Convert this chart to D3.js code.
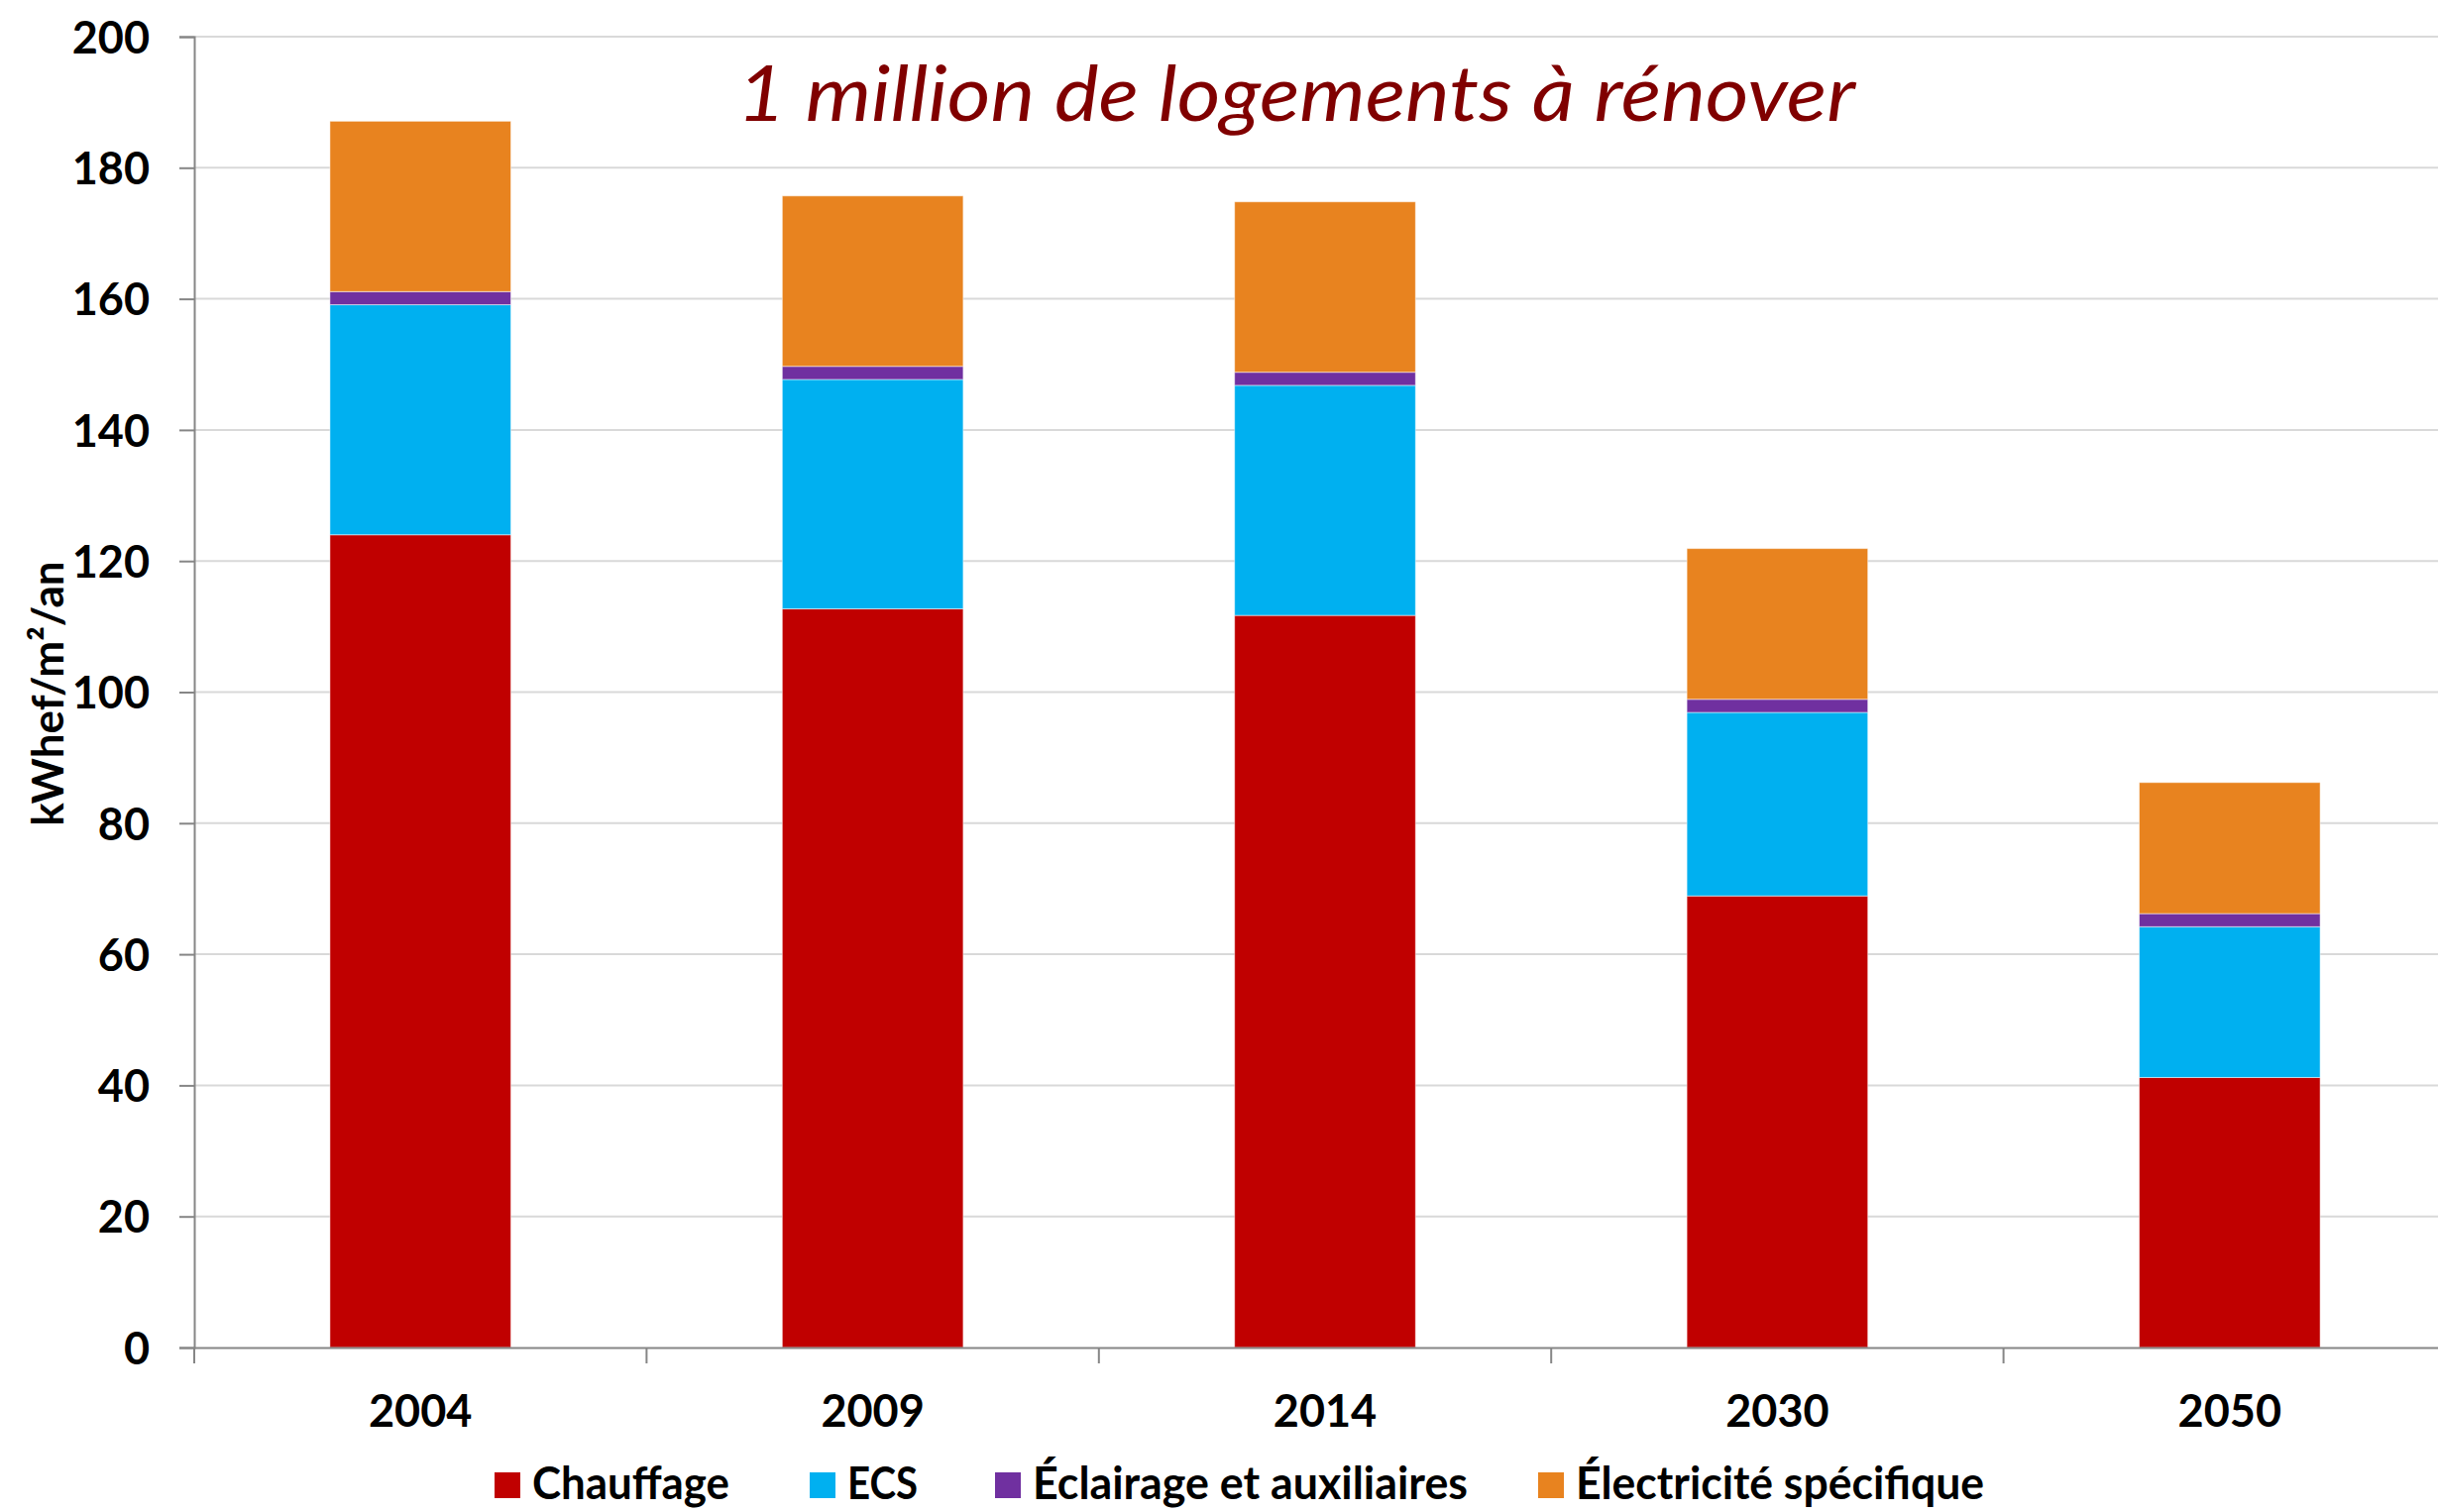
<!DOCTYPE html>
<html>
<head>
<meta charset="utf-8">
<script src="https://cdn.jsdelivr.net/npm/d3@7"></script>
<style>
  body { margin: 0; background: #fff; }
  svg { display: block; }
</style>
</head>
<body>
<div id="chart"></div>
<script>
// data
const categories = ["2004", "2009", "2014", "2030", "2050"];
const seriesNames = ["Chauffage", "ECS", "Éclairage et auxiliaires", "Électricité spécifique"];
const chauffage = [124.0, 112.7, 111.7, 68.9, 41.2];
const ecs = [35.1, 35.0, 35.1, 28.0, 23.0];
const eclairage = [2.0, 2.0, 2.0, 2.0, 2.0];
const electricite = [26.0, 26.0, 26.0, 23.0, 20.0];
const yTicks = [0, 20, 40, 60, 80, 100, 120, 140, 160, 180, 200];
const title = "1 million de logements à rénover";
const yLabel = "kWhef/m²/an";

const colors = ["#C00000", "#00B0F0", "#7030A0", "#E8831F"];

const width = 2460;
const height = 1526;
const plot = {left: 196, right: 2478, top: 37, bottom: 1360};

const rows = categories.map((c, i) => ({
  cat: c,
  [seriesNames[0]]: chauffage[i],
  [seriesNames[1]]: ecs[i],
  [seriesNames[2]]: eclairage[i],
  [seriesNames[3]]: electricite[i]
}));

const svg = d3.select("#chart")
              .append("svg")
              .attr("width", width)
              .attr("height", height);

const x = d3.scaleBand()
            .domain(categories)
            .range([plot.left, plot.right])
            .paddingInner(0.6)
            .paddingOuter(0.3);

const y = d3.scaleLinear()
            .domain([0, 200])
            .range([plot.bottom, plot.top]);

const color = d3.scaleOrdinal().domain(seriesNames).range(colors);

// gridlines
svg.append("g").selectAll("line").data(yTicks.filter(t => t > 0)).enter()
   .append("line")
   .attr("x1", plot.left).attr("x2", plot.right)
   .attr("y1", d => y(d)).attr("y2", d => y(d))
   .attr("stroke", "#d9d9d9")
   .attr("stroke-width", 2);

// stacked bars
const stacked = d3.stack().keys(seriesNames)(rows);
svg.append("g").selectAll("g").data(stacked).enter()
   .append("g")
   .attr("fill", d => color(d.key))
   .selectAll("rect").data(d => d).enter()
   .append("rect")
   .attr("x", d => x(d.data.cat))
   .attr("width", x.bandwidth())
   .attr("y", d => y(d[1]))
   .attr("height", d => y(d[0]) - y(d[1]))
   .attr("stroke", "#fff")
   .attr("stroke-width", 1)
   .attr("stroke-opacity", 0.5);

// y axis
const yAxis = svg.append("g")
   .attr("transform", `translate(${plot.left},0)`)
   .call(d3.axisLeft(y).tickValues(yTicks).tickSize(15).tickPadding(30));
yAxis.select(".domain").attr("stroke", "#868686").attr("stroke-width", 2);
yAxis.selectAll(".tick line").attr("stroke", "#868686").attr("stroke-width", 2);
yAxis.selectAll(".tick text")
     .attr("font-family", "Lato, sans-serif")
     .attr("font-weight", "bold")
     .attr("font-size", 45)
     .attr("fill", "#000")
     .attr("dy", "0.36em");

// x axis with ticks between categories
const xAxis = svg.append("g")
   .attr("transform", `translate(0,${plot.bottom})`)
   .call(d3.axisBottom(x).tickSize(0).tickPadding(48));
xAxis.select(".domain").attr("stroke", "#868686").attr("stroke-width", 2);
xAxis.selectAll(".tick text")
     .attr("font-family", "Lato, sans-serif")
     .attr("font-weight", "bold")
     .attr("font-size", 45)
     .attr("fill", "#000");
const bounds = categories.map(c => x(c) - x.step() * x.paddingInner() / 2).concat([plot.right]);
xAxis.append("g").selectAll("line").data(bounds).enter()
     .append("line")
     .attr("x1", d => d).attr("x2", d => d)
     .attr("y1", 0).attr("y2", 16)
     .attr("stroke", "#868686")
     .attr("stroke-width", 2);

// y label
svg.append("text")
   .attr("transform", "translate(64,700) rotate(-90)")
   .attr("text-anchor", "middle")
   .attr("font-family", "Lato, sans-serif")
   .attr("font-weight", "bold")
   .attr("font-size", 44)
   .attr("fill", "#000")
   .text(yLabel);

// title
svg.append("text")
   .attr("x", 744).attr("y", 122)
   .attr("font-family", "Lato, sans-serif")
   .attr("font-style", "italic")
   .attr("font-size", 78)
   .attr("fill", "#800000")
   .attr("textLength", 1128)
   .attr("lengthAdjust", "spacingAndGlyphs")
   .text(title);

// legend
const legendX = [499, 817, 1004, 1552];
const legendW = [199, 71, 439, 412];
const legend = svg.append("g").selectAll("g").data(seriesNames).enter()
   .append("g")
   .attr("transform", (d, i) => `translate(${legendX[i]},1486)`);
legend.append("rect")
   .attr("width", 26).attr("height", 26)
   .attr("fill", d => color(d));
legend.append("text")
   .attr("x", 38).attr("y", 27)
   .attr("font-family", "Lato, sans-serif")
   .attr("font-weight", "bold")
   .attr("font-size", 45)
   .attr("fill", "#000")
   .attr("textLength", (d, i) => legendW[i])
   .attr("lengthAdjust", "spacingAndGlyphs")
   .text(d => d);
</script>
</body>
</html>
